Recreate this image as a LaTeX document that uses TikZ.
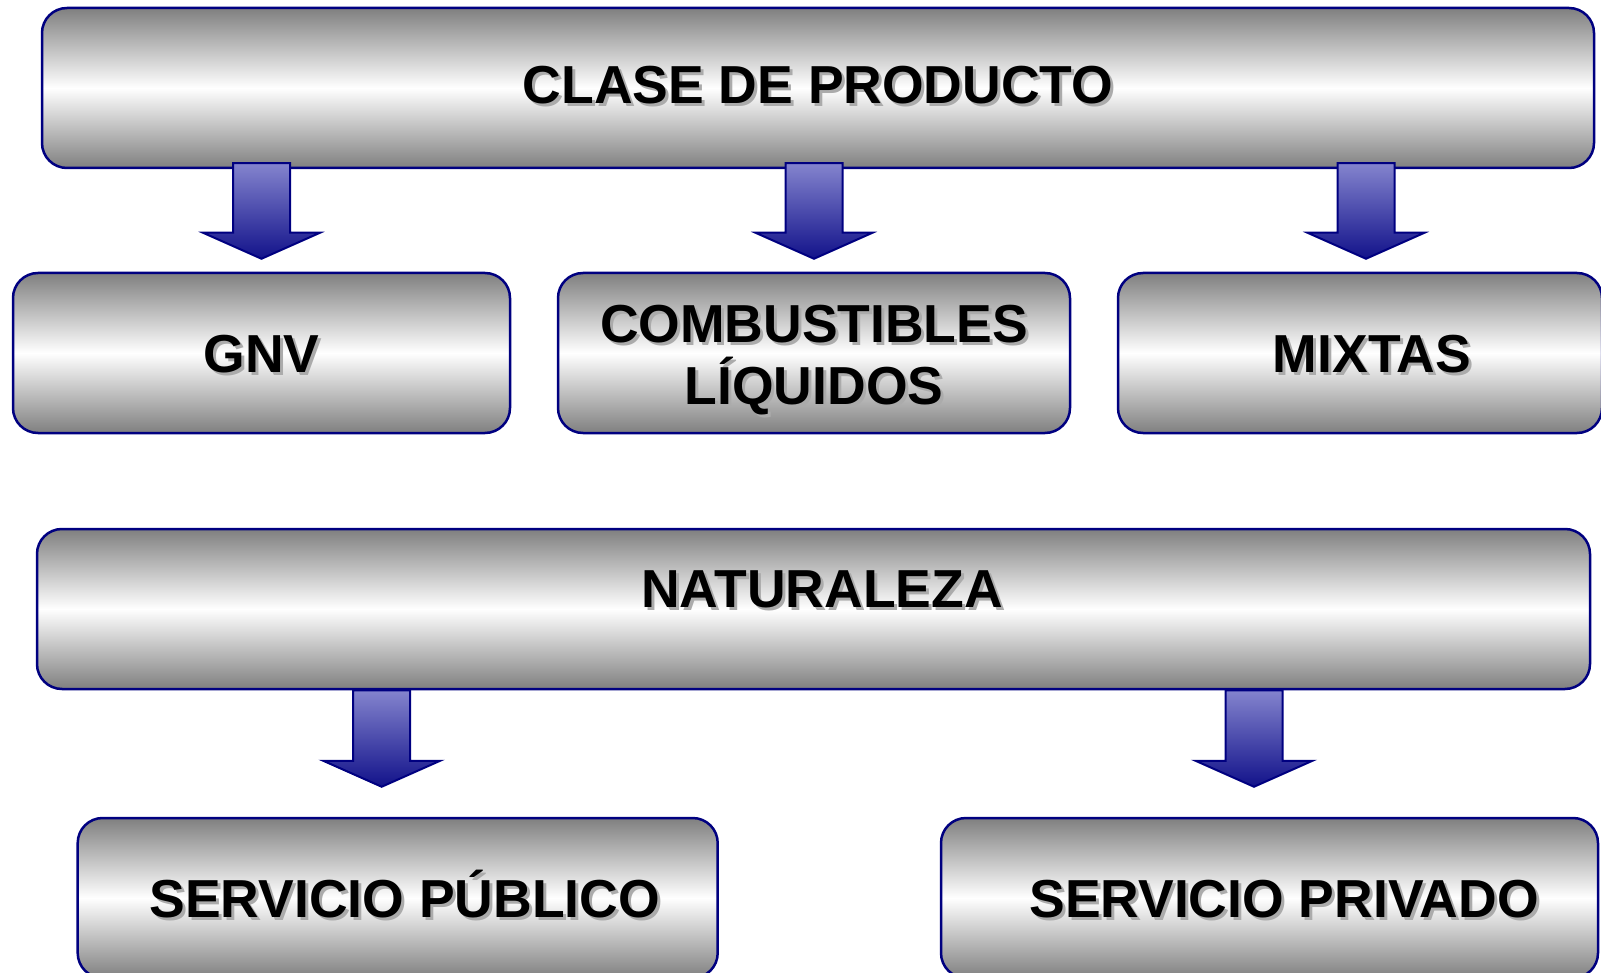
\documentclass[tikz,border=0pt]{standalone}
\usepackage{fontspec}
\setmainfont{Liberation Sans}
\usetikzlibrary{positioning}
\usetikzlibrary{calc}
\definecolor{boxline}{RGB}{0,0,128}
\definecolor{arrowtop}{RGB}{132,132,206}
\definecolor{arrowbot}{RGB}{18,18,138}
\newcommand{\shtxt}[1]{\makebox[0pt][l]{\kern3pt\raisebox{-3pt}{\textcolor{black!33}{#1}}}#1}
\tikzset{
	bigbox/.style={draw=boxline, line width=2.5pt, rounded corners=25pt, top color=gray, bottom color=gray, middle color=white, inner sep=0pt, minimum height=160pt, align=center, font=\fontsize{53.5}{62.3}\selectfont\bfseries},
	% single line text: vertical/horizontal offset of the label
	oneline/.style={text height=48.3pt, text depth=10pt},
	textshift/.style 2 args={execute at begin node={\hspace*{#1}}, text height=#2, text depth=10pt},
	bigarrow/.style={draw=boxline, line width=2pt, top color=arrowtop, bottom color=arrowbot},
}
% block arrow from shaft top (#1) to tip (#2)
\newcommand{\blockarrow}[2]{%
	\draw[bigarrow] ($(#1)+(-28.5,0)$) -- ($(#2)+(-28.5,-26)$) -- ($(#2)+(-58.5,-26)$) -- (#2) -- ($(#2)+(58.5,-26)$) -- ($(#2)+(28.5,-26)$) -- ($(#1)+(28.5,0)$) -- cycle;}

\begin{document}
\begin{tikzpicture}[x=1pt, y=-1pt]
	\useasboundingbox (0,0) rectangle (1601,973);
	
	\node (clase) [bigbox, textshift={0pt}{40.3pt}, minimum width=1552pt] at (818,88) {\shtxt{CLASE DE PRODUCTO}};
	
	\node (gnv) [bigbox, oneline, minimum width=497pt] at (261.5,353) {\shtxt{GNV}};
	\node (comb) [bigbox, minimum width=512pt] at (814,353) {\rule{0pt}{54pt}\shtxt{COMBUSTIBLES}\\\shtxt{LÍQUIDOS}};
	\node (mixtas) [bigbox, textshift={24pt}{48.3pt}, minimum width=484pt] at (1360,353) {\shtxt{MIXTAS}};
	
	\node (nat) [bigbox, textshift={17pt}{6.3pt}, minimum width=1553pt] at (813.5,609) {\shtxt{NATURALEZA}};
	
	\node (publico) [bigbox, textshift={14pt}{48.3pt}, minimum width=640pt] at (397.7,898) {\shtxt{SERVICIO PÚBLICO}};
	\node (privado) [bigbox, textshift={29pt}{48.3pt}, minimum width=657pt] at (1269.5,898) {\shtxt{SERVICIO PRIVADO}};
	
	% arrow ends
	\coordinate (s1) at ($(clase.south -| gnv.north)+(0,-6)$);
	\coordinate (t1) at ($(gnv.north)+(0,-13)$);
	\coordinate (s2) at ($(clase.south -| comb.north)+(0,-6)$);
	\coordinate (t2) at ($(comb.north)+(0,-13)$);
	\coordinate (s3) at ($(clase.south -| mixtas.north)+(6,-6)$);
	\coordinate (t3) at ($(mixtas.north)+(6,-13)$);
	\coordinate (s4) at ($(nat.south -| publico.north)+(-16,0)$);
	\coordinate (t4) at ($(publico.north)+(-16,-30)$);
	\coordinate (s5) at ($(nat.south -| privado.north)+(-15.5,0)$);
	\coordinate (t5) at ($(privado.north)+(-15.5,-30)$);
	
	\blockarrow{s1}{t1}
	\blockarrow{s2}{t2}
	\blockarrow{s3}{t3}
	\blockarrow{s4}{t4}
	\blockarrow{s5}{t5}
\end{tikzpicture}
\end{document}
